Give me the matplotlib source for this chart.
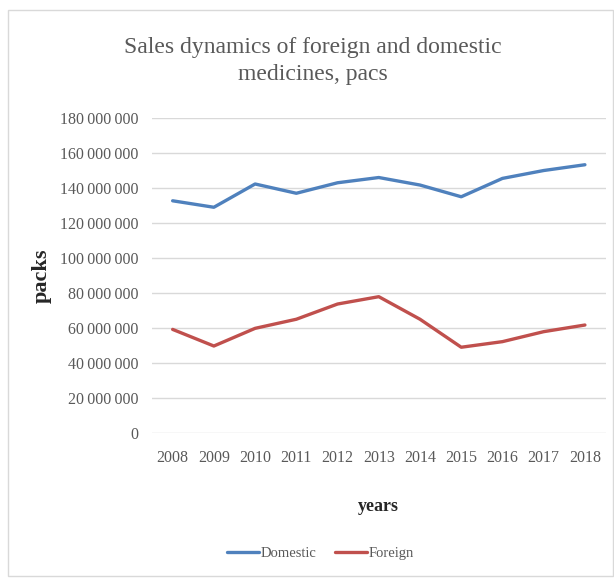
import matplotlib
matplotlib.use("Agg")
import matplotlib.pyplot as plt
from matplotlib.patches import Rectangle
from matplotlib.ticker import FuncFormatter

years = [2008, 2009, 2010, 2011, 2012, 2013, 2014, 2015, 2016, 2017, 2018]
domestic = [132.7e6, 129.0e6, 142.3e6, 137.0e6, 143.0e6, 146.0e6,
            141.7e6, 135.0e6, 145.5e6, 150.0e6, 153.3e6]
foreign = [59.2e6, 49.7e6, 59.8e6, 65.0e6, 73.7e6, 77.9e6,
           65.0e6, 49.0e6, 52.2e6, 57.9e6, 61.7e6]

plt.rcParams['font.family'] = ['Liberation Serif', 'DejaVu Serif']

fig = plt.figure(figsize=(6.14, 5.78), dpi=100)
ax = fig.add_axes([0.2476, 0.2509, 0.7386, 0.5449])

x = list(range(len(years)))
ax.plot(x, domestic, color='#4F81BD', lw=2.4, label='Domestic', solid_capstyle='round')
ax.plot(x, foreign, color='#C0504D', lw=2.4, label='Foreign', solid_capstyle='round')

ax.set_xlim(-0.5, len(years) - 0.5)
ax.set_ylim(0, 180e6)
ax.set_yticks(range(0, 180000001, 20000000))
ax.yaxis.set_major_formatter(FuncFormatter(lambda v, p: f"{int(v):,}".replace(",", "\u2009")))
ax.set_xticks(x)
ax.set_xticklabels([str(y) for y in years])
ax.grid(axis='y', color='#D9D9D9', lw=1)
ax.set_axisbelow(True)
for s in ax.spines.values():
    s.set_visible(False)
ax.tick_params(length=0, labelsize=11.5, colors='#595959', pad=10)
ax.tick_params(axis='x', pad=12)

ax.set_ylabel('packs', fontsize=16, fontweight='bold', color='#262626', labelpad=6)
ax.set_xlabel('years', fontsize=13, fontweight='bold', color='#262626', labelpad=23)

fig.text(0.51, 0.894, 'Sales dynamics of foreign and domestic\nmedicines, pacs',
         ha='center', va='center', fontsize=17, color='#595959', linespacing=1.4)

leg = fig.legend(loc='center', bbox_to_anchor=(0.522, 0.043), ncol=2, frameon=False,
                 fontsize=10.5, handlelength=2.2, handletextpad=0.1, columnspacing=1.3)
for t in leg.get_texts():
    t.set_color('#595959')

fig.patches.append(Rectangle((0.013, 0.003), 0.985, 0.98, transform=fig.transFigure,
                             fill=False, edgecolor='#D9D9D9', lw=1))

fig.savefig('out.png', dpi=100)
